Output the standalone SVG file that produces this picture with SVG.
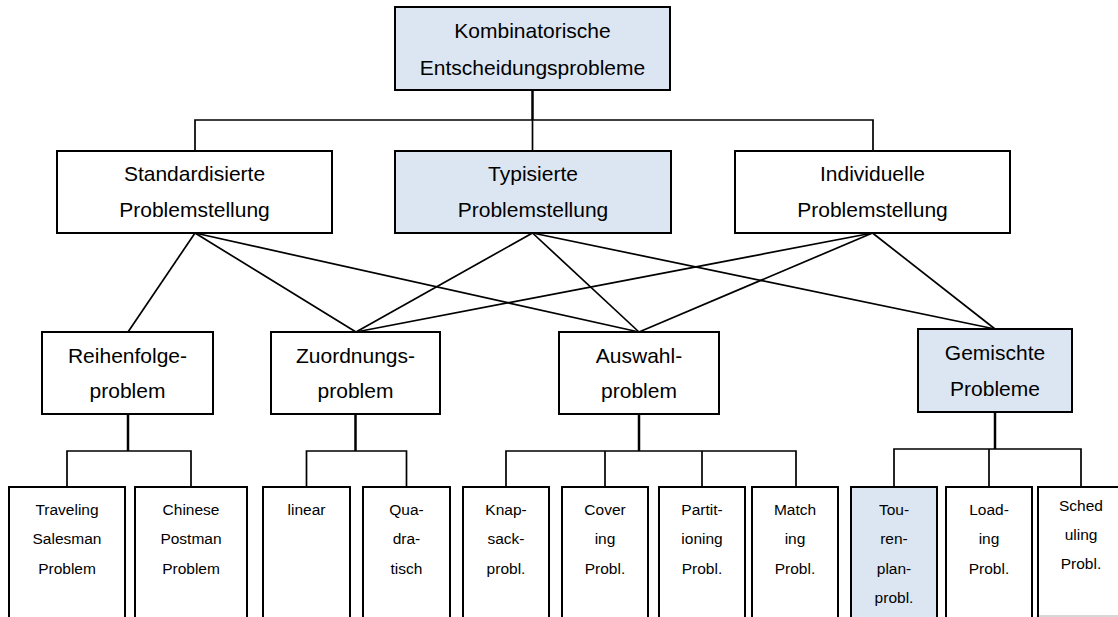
<svg xmlns="http://www.w3.org/2000/svg" width="1118" height="617" viewBox="0 0 1118 617">
  <style>
    .box { fill: #ffffff; stroke: #000000; stroke-width: 2; }
    .hl { fill: #dce6f2; }
    .t { font-family: "Liberation Sans", Arial, sans-serif; font-size: 21px; fill: #000000; text-anchor: middle; }
    .s { font-family: "Liberation Sans", Arial, sans-serif; font-size: 15.5px; fill: #000000; text-anchor: middle; }
    .ln { stroke: #000000; stroke-width: 1.7; fill: none; }
    .tr { stroke: #000000; stroke-width: 2.5; fill: none; }
  </style>
  <rect width="1118" height="617" fill="#ffffff"/>

  <!-- connectors -->
  <g id="connectors">
    <!-- root to second level -->
    <line class="tr" x1="532.5" y1="90" x2="532.5" y2="120"/>
    <polyline class="ln" points="195,151 195,120 873,120 873,151"/>
    <line class="ln" x1="532.5" y1="120" x2="532.5" y2="151"/>
    <!-- second level to problem classes -->
    <line class="ln" x1="195" y1="233" x2="128" y2="332"/>
    <line class="ln" x1="195" y1="233" x2="356" y2="332"/>
    <line class="ln" x1="195" y1="233" x2="639" y2="332"/>
    <line class="ln" x1="532.5" y1="233" x2="356" y2="332"/>
    <line class="ln" x1="532.5" y1="233" x2="639" y2="332"/>
    <line class="ln" x1="532.5" y1="233" x2="995" y2="329"/>
    <line class="ln" x1="872.5" y1="233" x2="356" y2="332"/>
    <line class="ln" x1="872.5" y1="233" x2="639" y2="332"/>
    <line class="ln" x1="872.5" y1="233" x2="995" y2="329"/>
    <!-- Reihenfolgeproblem -->
    <line class="tr" x1="128" y1="414" x2="128" y2="451"/>
    <polyline class="ln" points="67,487 67,451 191,451 191,487"/>
    <!-- Zuordnungsproblem -->
    <line class="tr" x1="355.5" y1="414" x2="355.5" y2="451"/>
    <polyline class="ln" points="306.5,487 306.5,451 406.5,451 406.5,487"/>
    <!-- Auswahlproblem -->
    <line class="tr" x1="639" y1="414" x2="639" y2="451"/>
    <polyline class="ln" points="506,487 506,451 796,451 796,487"/>
    <line class="ln" x1="605" y1="451" x2="605" y2="487"/>
    <line class="ln" x1="702" y1="451" x2="702" y2="487"/>
    <!-- Gemischte Probleme -->
    <line class="tr" x1="995" y1="412" x2="995" y2="449"/>
    <polyline class="ln" points="894,487 894,449 1081,449 1081,487"/>
    <line class="ln" x1="989" y1="449" x2="989" y2="487"/>
  </g>

  <!-- root -->
  <g id="root">
    <rect class="box hl" x="395" y="7" width="275" height="83"/>
    <text class="t" x="532.5" y="38">Kombinatorische</text>
    <text class="t" x="532.5" y="75">Entscheidungsprobleme</text>
  </g>

  <!-- second level -->
  <g id="standardisierte">
    <rect class="box" x="57" y="151" width="275" height="82"/>
    <text class="t" x="194.5" y="181">Standardisierte</text>
    <text class="t" x="194.5" y="217">Problemstellung</text>
  </g>
  <g id="typisierte">
    <rect class="box hl" x="395" y="151" width="276" height="82"/>
    <text class="t" x="533" y="181">Typisierte</text>
    <text class="t" x="533" y="217">Problemstellung</text>
  </g>
  <g id="individuelle">
    <rect class="box" x="735" y="151" width="275" height="82"/>
    <text class="t" x="872.5" y="181">Individuelle</text>
    <text class="t" x="872.5" y="217">Problemstellung</text>
  </g>

  <!-- problem classes -->
  <g id="reihenfolge">
    <rect class="box" x="42" y="332" width="171" height="82"/>
    <text class="t" x="127.5" y="363">Reihenfolge-</text>
    <text class="t" x="127.5" y="398">problem</text>
  </g>
  <g id="zuordnung">
    <rect class="box" x="271" y="332" width="169" height="82"/>
    <text class="t" x="355.5" y="363">Zuordnungs-</text>
    <text class="t" x="355.5" y="398">problem</text>
  </g>
  <g id="auswahl">
    <rect class="box" x="559" y="332" width="160" height="82"/>
    <text class="t" x="639" y="363">Auswahl-</text>
    <text class="t" x="639" y="398">problem</text>
  </g>
  <g id="gemischte">
    <rect class="box hl" x="918" y="329" width="154" height="83"/>
    <text class="t" x="995" y="360">Gemischte</text>
    <text class="t" x="995" y="396">Probleme</text>
  </g>

  <!-- leaf problems (boxes run past the lower edge) -->
  <g id="tsp">
    <rect class="box" x="9" y="487" width="116" height="150"/>
    <text class="s" x="67" y="515">Traveling</text>
    <text class="s" x="67" y="544">Salesman</text>
    <text class="s" x="67" y="574">Problem</text>
  </g>
  <g id="cpp">
    <rect class="box" x="135" y="487" width="112" height="150"/>
    <text class="s" x="191" y="515">Chinese</text>
    <text class="s" x="191" y="544">Postman</text>
    <text class="s" x="191" y="574">Problem</text>
  </g>
  <g id="linear">
    <rect class="box" x="263" y="487" width="87" height="150"/>
    <text class="s" x="306.5" y="515">linear</text>
  </g>
  <g id="quadratisch">
    <rect class="box" x="363" y="487" width="87" height="150"/>
    <text class="s" x="406.5" y="515">Qua-</text>
    <text class="s" x="406.5" y="544">dra-</text>
    <text class="s" x="406.5" y="574">tisch</text>
  </g>
  <g id="knapsack">
    <rect class="box" x="463" y="487" width="86" height="150"/>
    <text class="s" x="506" y="515">Knap-</text>
    <text class="s" x="506" y="544">sack-</text>
    <text class="s" x="506" y="574">probl.</text>
  </g>
  <g id="covering">
    <rect class="box" x="562" y="487" width="86" height="150"/>
    <text class="s" x="605" y="515">Cover</text>
    <text class="s" x="605" y="544">ing</text>
    <text class="s" x="605" y="574">Probl.</text>
  </g>
  <g id="partitioning">
    <rect class="box" x="659" y="487" width="86" height="150"/>
    <text class="s" x="702" y="515">Partit-</text>
    <text class="s" x="702" y="544">ioning</text>
    <text class="s" x="702" y="574">Probl.</text>
  </g>
  <g id="matching">
    <rect class="box" x="752" y="487" width="86" height="150"/>
    <text class="s" x="795" y="515">Match</text>
    <text class="s" x="795" y="544">ing</text>
    <text class="s" x="795" y="574">Probl.</text>
  </g>
  <g id="tourenplan">
    <rect class="box hl" x="851" y="487" width="86" height="150"/>
    <text class="s" x="894" y="515">Tou-</text>
    <text class="s" x="894" y="544">ren-</text>
    <text class="s" x="894" y="574">plan-</text>
    <text class="s" x="894" y="603">probl.</text>
  </g>
  <g id="loading">
    <rect class="box" x="946" y="487" width="86" height="150"/>
    <text class="s" x="989" y="515">Load-</text>
    <text class="s" x="989" y="544">ing</text>
    <text class="s" x="989" y="574">Probl.</text>
  </g>
  <g id="scheduling">
    <rect class="box" x="1038" y="487" width="86" height="150"/>
    <line x1="1039" y1="616" x2="1118" y2="616" stroke="#b0b0b0" stroke-width="1"/>
    <text class="s" x="1081" y="511">Sched</text>
    <text class="s" x="1081" y="540">uling</text>
    <text class="s" x="1081" y="569">Probl.</text>
  </g>
</svg>
